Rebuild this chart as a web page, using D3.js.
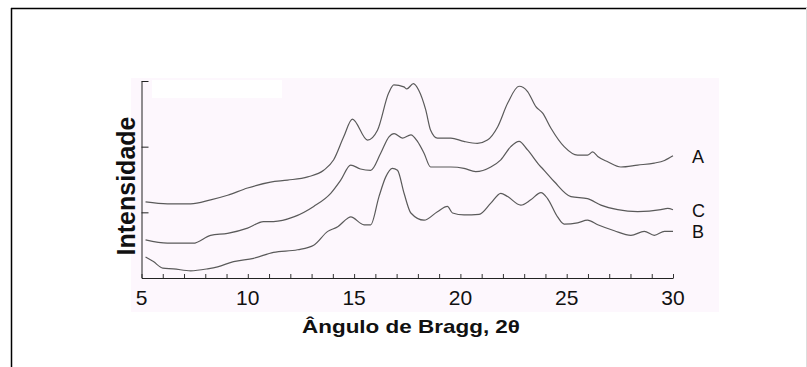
<!DOCTYPE html>
<html>
<head>
<meta charset="utf-8">
<script src="https://cdn.jsdelivr.net/npm/d3@7"></script>
<style>
  html, body { margin: 0; padding: 0; background: #fff; }
  svg { display: block; font-family: "Liberation Sans", Arial, sans-serif; }
</style>
</head>
<body>
<svg id="grafico" width="807" height="367"></svg>
<script>
const serieA = [
  [5.19, 116], [6.22, 113], [7.31, 113], [8.25, 119], [9.05, 126], [9.99, 137],
  [11.07, 146], [11.87, 149], [12.82, 154], [13.57, 164], [14.04, 180], [14.51, 215],
  [14.92, 242], [15.63, 210], [16.1, 225], [16.63, 282], [16.87, 294], [17.34, 291],
  [17.48, 288], [17.79, 296], [18.04, 286], [18.37, 256], [18.6, 225], [18.92, 213],
  [19.55, 213], [20.16, 208], [20.8, 205], [21.27, 210], [21.75, 230], [22.22, 266],
  [22.76, 292], [23.16, 284], [23.55, 261], [23.87, 251], [24.26, 228], [24.88, 200],
  [25.51, 187], [25.98, 187], [26.22, 192], [26.46, 185], [26.93, 177], [27.55, 169],
  [28.34, 172], [29.12, 175], [29.6, 179], [30.0, 186]
];
const serieC = [
  [5.19, 58], [6.22, 53], [7.43, 53], [8.25, 65], [9.05, 68], [9.99, 76],
  [10.74, 86], [11.21, 86], [12.16, 93], [13.1, 109], [13.9, 129], [14.37, 149],
  [14.84, 172], [15.3, 166], [15.78, 164], [16.25, 190], [16.64, 215], [16.88, 220],
  [17.27, 213], [17.67, 218], [17.98, 208], [18.29, 190], [18.6, 169], [19.55, 169],
  [20.17, 167], [20.72, 162], [21.43, 169], [21.9, 180], [22.37, 200], [22.76, 208],
  [23.16, 195], [23.71, 172], [23.94, 164], [24.41, 147], [25.2, 124], [25.98, 121],
  [26.61, 111], [27.4, 104], [28.34, 101], [29.43, 104], [29.75, 106], [30.0, 104]
];
const serieB = [
  [5.19, 32], [5.56, 25], [6.0, 15], [6.5, 14], [7.31, 11], [8.11, 14],
  [8.58, 17], [9.33, 25], [10.27, 30], [11.21, 39], [12.34, 43], [13.1, 50],
  [13.76, 71], [14.23, 78], [14.7, 91], [14.84, 93], [15.47, 81], [15.78, 81],
  [16.17, 124], [16.49, 154], [16.8, 167], [17.04, 164], [17.35, 129], [17.67, 99],
  [18.29, 88], [18.92, 101], [19.39, 109], [19.63, 99], [20.17, 96], [20.88, 97],
  [21.43, 114], [21.9, 129], [22.22, 124], [22.84, 111], [23.31, 119], [23.79, 130],
  [24.1, 121], [24.57, 93], [24.88, 82], [25.51, 84], [25.98, 88], [26.46, 81],
  [27.24, 72], [28.02, 65], [28.65, 71], [29.12, 65], [29.6, 71], [30.0, 71]
];
const rotulosSeries = ['A', 'C', 'B'];
const ticksX = [5, 10, 15, 20, 25, 30];
const ticksY = [100, 200, 300];

const svg = d3.select('#grafico');

// moldura (a imagem original tem borda em cima e à esquerda)
svg.append('line').attr('x1', 11).attr('x2', 807).attr('y1', 8.5).attr('y2', 8.5)
  .attr('stroke', '#000').attr('stroke-width', 1.5);
svg.append('line').attr('x1', 11.5).attr('x2', 11.5).attr('y1', 8).attr('y2', 367)
  .attr('stroke', '#000').attr('stroke-width', 1.5);
svg.append('line').attr('x1', 806.5).attr('x2', 806.5).attr('y1', 8).attr('y2', 367)
  .attr('stroke', '#ddd').attr('stroke-width', 1);

// fundo levemente rosado da figura escaneada
svg.append('rect').attr('x', 131).attr('y', 78).attr('width', 588).attr('height', 234)
  .attr('fill', '#fdf7fd');
// mancha branca do escaneamento, canto superior esquerdo
svg.append('rect').attr('x', 152).attr('y', 80).attr('width', 130).attr('height', 18)
  .attr('fill', '#fff');

const x = d3.scaleLinear().domain([5, 30]).range([141.5, 673]);
const y = d3.scaleLinear().domain([0, 300]).range([278, 81]);

// eixo X: marcas a cada grau, para dentro
const eixoX = svg.append('g').attr('transform', 'translate(0,278)')
  .call(d3.axisBottom(x).tickValues(d3.range(5, 31, 1)).tickSize(-4).tickFormat('').tickSizeOuter(0));
eixoX.select('.domain').attr('stroke', '#222');
eixoX.selectAll('.tick line').attr('stroke', '#333');

svg.append('g').selectAll('text').data(ticksX).enter().append('text')
  .attr('x', d => x(d)).attr('y', 305)
  .attr('text-anchor', 'middle').attr('font-size', 21).attr('fill', '#111')
  .text(d => d);

// eixo Y sem números
const eixoY = svg.append('g').attr('transform', 'translate(141.5,0)')
  .call(d3.axisLeft(y).tickValues(ticksY).tickSize(-7).tickFormat('').tickSizeOuter(0));
eixoY.select('.domain').attr('stroke', '#222');
eixoY.selectAll('.tick line').attr('stroke', '#222');

// curvas
const linha = d3.line().x(d => x(d[0])).y(d => y(d[1])).curve(d3.curveMonotoneX);
[serieA, serieC, serieB].forEach(s => {
  svg.append('path').datum(s).attr('d', linha)
    .attr('fill', 'none').attr('stroke', '#5a5a5a').attr('stroke-width', 1.2);
});

// rótulos das curvas
const posRotulo = { A: 163, C: 217, B: 238 };
svg.append('g').selectAll('text').data(rotulosSeries).enter().append('text')
  .attr('x', 692).attr('y', d => posRotulo[d])
  .attr('font-size', 18).attr('fill', '#111')
  .text(d => d);

// títulos dos eixos
svg.append('text').attr('x', 411).attr('y', 333)
  .attr('text-anchor', 'middle').attr('font-size', 19).attr('font-weight', 'bold')
  .attr('textLength', 218).attr('lengthAdjust', 'spacingAndGlyphs')
  .attr('fill', '#111')
  .text('Ângulo de Bragg, 2θ');

svg.append('text').attr('transform', 'translate(135,186) rotate(-90)')
  .attr('text-anchor', 'middle').attr('font-size', 25).attr('font-weight', 'bold')
  .attr('fill', '#111')
  .text('Intensidade');
</script>
</body>
</html>
